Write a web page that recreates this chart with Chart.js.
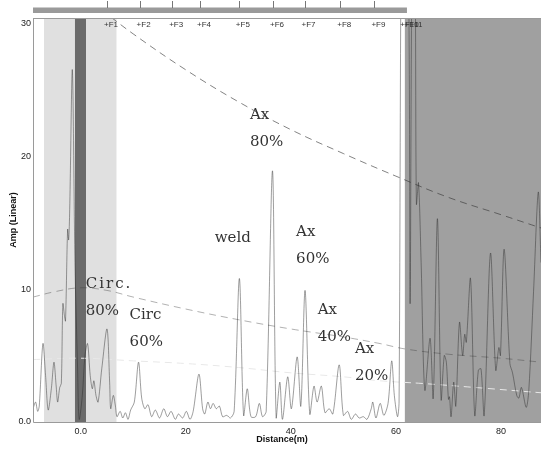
<!DOCTYPE html>
<html>
<head>
<meta charset="utf-8">
<script src="https://cdn.jsdelivr.net/npm/chart.js@4"></script>
<style>
  html, body { margin: 0; padding: 0; background: #fff; }
</style>
</head>
<body>
<canvas id="myChart" width="544" height="449"></canvas>
<script>
// A-scan trace (distance m, amplitude)
const sigX = [-9.09, -8.6, -8.2, -7.9, -7.2, -6.7, -6.2, -5.6, -5.1, -4.7, -4.4, -4.0, -3.7, -3.4, -3.1, -2.9, -2.5, -2.3, -2.1, -1.6, -1.1, -0.6, -0.3,
  0.3, 0.8, 1.3, 1.8, 2.2, 2.5, 2.9, 3.3, 4.0, 5.0, 5.5, 5.7, 6.2, 6.6, 6.9, 7.5, 8.0, 8.5, 9.0, 9.5, 10.2, 11.0, 11.6, 12.2, 12.8, 13.5, 14.2,
  15.0, 15.8, 16.5, 17.2, 18.0, 18.6, 19.4, 20.1, 20.8, 21.4, 22.5, 23.2, 23.6, 24.2, 24.7, 25.2, 25.8, 26.4, 27.0, 27.8, 28.5, 29.2,
  30.2, 31.0, 31.7, 32.4, 33.3, 34.0, 34.6, 35.3, 36.5, 37.2, 37.9, 38.4, 39.4, 40.1, 41.2, 41.9, 42.7, 43.6, 44.4, 45.0, 45.8, 46.5,
  47.3, 48.0, 49.2, 50.0, 50.8, 51.5, 52.3, 53.0, 53.8, 54.5, 55.3, 55.6, 56.2, 57.0, 57.7, 58.5, 59.2, 59.7, 60.3, 60.6, 61.0, 61.3,
  62.3, 62.7, 63.1, 63.6, 63.9, 64.3, 64.8, 65.5, 66.5, 67.1, 67.9, 68.6, 69.2, 69.6, 70.0, 70.2, 70.5, 71.0, 71.4, 72.1, 72.7, 73.1,
  73.4, 74.2, 75.0, 75.7, 76.2, 76.8, 78.0, 79.0, 79.6, 79.9, 80.6, 81.7, 82.2, 83.0, 83.4, 83.9, 84.8, 85.3, 86.2, 87.1, 87.62];
const sigY = [1.0, 1.5, 0.8, 1.2, 5.9, 3.5, 0.9, 2.5, 4.5, 2.8, 1.5, 2.6, 2.9, 8.9, 8.0, 7.6, 14.5, 13.7, 16.0, 26.5, 12.0, 4.0, 0.2,
  2.0, 5.0, 5.9, 3.5, 2.5, 3.1, 2.0, 1.5, 4.0, 7.0, 3.0, 1.0, 2.0, 1.2, 0.4, 0.8, 0.3, 0.7, 0.2, 0.9, 1.5, 4.5, 1.8, 1.0, 1.3, 0.4, 0.9,
  0.3, 1.0, 0.4, 0.8, 0.2, 0.6, 0.3, 0.8, 0.2, 0.8, 3.6, 1.0, 0.6, 1.5, 1.0, 1.4, 1.0, 1.2, 0.4, 0.5, 0.3, 0.8,
  10.8, 0.5, 2.5, 0.4, 0.4, 1.4, 0.4, 0.8, 18.9, 0.3, 3.0, 0.2, 3.4, 1.0, 4.9, 1.2, 9.9, 0.6, 2.7, 1.5, 2.7, 0.7,
  1.0, 0.6, 4.3, 0.5, 0.8, 0.2, 0.6, 0.3, 0.4, 0.2, 1.0, 1.5, 0.3, 1.4, 0.5, 1.4, 4.6, 2.0, 0.4, 1.5, 36, 36,
  36, 8.9, 36, 36, 16.4, 18.0, 12.0, 2.4, 6.3, 1.8, 15.3, 1.7, 5.0, 4.5, 1.7, 1.9, 0.4, 3.0, 1.2, 7.5, 5.0, 6.6,
  6.0, 10.8, 0.5, 3.9, 4.0, 0.5, 12.7, 3.9, 5.6, 5.0, 13.0, 4.4, 3.7, 2.0, 1.8, 2.6, 1.1, 2.4, 9.8, 17.3, 12.0];

// DAC curves
const ax80X = [4, 10, 20, 30, 40, 50, 60, 70, 80, 87.62];
const ax80Y = [31.0, 29.2, 26.5, 24.1, 22.0, 20.2, 18.5, 16.9, 15.6, 14.6];
const midX = [-9.09, -5, 0, 5, 10, 20, 30, 40, 50, 57, 61.7, 70, 80, 87.62];
const midY = [9.4, 9.8, 10.1, 9.9, 9.4, 8.5, 7.7, 7.0, 6.4, 5.9, 5.5, 5.1, 4.8, 4.5];
const lowX = [-9.09, 0, 10, 20, 30, 40, 50, 57, 65, 75, 87.62];
const lowY = [4.7, 4.8, 4.6, 4.4, 4.1, 3.7, 3.4, 3.1, 2.9, 2.6, 2.2];

const xTicks = [0, 20, 40, 60, 80];
const yTicks = [0, 10, 20, 30];

// feature markers along the top
const featNames = ["F1", "F2", "F3", "F4", "F5", "F6", "F7", "F8", "F9", "F10", "F11"];
const featPos = [5.0, 11.2, 17.4, 22.7, 30.1, 36.6, 42.6, 49.4, 55.9, 61.4, 62.2];

// shaded zones
const lightZone = [-7.0, 6.8];
const darkZone = [-1.1, 1.0];
const rightZone = [61.7, 87.62];

const notes = [
  { lines: ["Ax", "80%"], x: 32.2, y: 23.1 },
  { lines: ["weld"], x: 25.5, y: 13.8 },
  { lines: ["Ax", "60%"], x: 41.0, y: 14.3 },
  { lines: ["Circ.", "80%"], x: 0.95, y: 10.4, spread: true },
  { lines: ["Circ", "60%"], x: 9.3, y: 8.05 },
  { lines: ["Ax", "40%"], x: 45.1, y: 8.4 },
  { lines: ["Ax", "20%"], x: 52.2, y: 5.5 },
];

const toXY = (xs, ys) => xs.map((x, i) => ({ x: x, y: ys[i] }));
const tickFont = { family: "'Liberation Sans Narrow', 'Liberation Sans', Arial", size: 9 };

const zones = {
  id: "zones",
  beforeDatasetsDraw(chart) {
    const { ctx, chartArea: a, scales } = chart;
    const px = (v) => scales.x.getPixelForValue(v);
    ctx.save();
    ctx.fillStyle = "#e0e0e0";
    ctx.fillRect(px(lightZone[0]), a.top, px(lightZone[1]) - px(lightZone[0]), a.bottom - a.top);
    ctx.fillStyle = "#6b6b6b";
    ctx.fillRect(px(darkZone[0]), a.top, px(darkZone[1]) - px(darkZone[0]), a.bottom - a.top);
    ctx.fillStyle = "#a0a0a0";
    ctx.fillRect(px(rightZone[0]), a.top, px(rightZone[1]) - px(rightZone[0]), a.bottom - a.top);
    ctx.restore();
  },
  afterDraw(chart) {
    const { ctx, chartArea: a, scales } = chart;
    const px = (v) => scales.x.getPixelForValue(v);
    const py = (v) => scales.y.getPixelForValue(v);
    ctx.save();
    // frame
    ctx.strokeStyle = "#9a9a9a";
    ctx.lineWidth = 1;
    ctx.beginPath();
    ctx.moveTo(a.left + 0.5, a.top + 0.5);
    ctx.lineTo(a.right, a.top + 0.5);
    ctx.moveTo(a.left + 0.5, a.top);
    ctx.lineTo(a.left + 0.5, a.bottom + 0.5);
    ctx.lineTo(a.right, a.bottom + 0.5);
    ctx.stroke();

    // top bar + marker ticks
    ctx.fillStyle = "#9a9a9a";
    ctx.fillRect(a.left, 7.5, px(62.1) - a.left, 5.5);
    ctx.strokeStyle = "#777";
    for (let i = 0; i < 9; i++) {
      const x = Math.round(px(featPos[i])) + 0.5;
      ctx.beginPath();
      ctx.moveTo(x, 1);
      ctx.lineTo(x, 8);
      ctx.stroke();
    }
    ctx.fillStyle = "#333";
    ctx.font = "8px 'Liberation Sans Narrow', 'Liberation Sans', Arial";
    ctx.textBaseline = "middle";
    ctx.textAlign = "left";
    featNames.forEach((n, i) => ctx.fillText("+" + n, px(featPos[i]) - 3, 25));

    // annotations
    ctx.fillStyle = "#333";
    ctx.font = "15px 'DejaVu Serif', 'Liberation Serif', serif";
    notes.forEach((n) => {
      n.lines.forEach((t, j) => {
        ctx.letterSpacing = n.spread && j === 0 ? "2px" : "0px";
        ctx.fillText(t, px(n.x), py(n.y) + j * 27);
      });
    });
    ctx.letterSpacing = "0px";

    // axis titles
    ctx.font = "bold 9px 'Liberation Sans Narrow', 'Liberation Sans', Arial";
    ctx.textAlign = "center";
    ctx.fillStyle = "#111";
    ctx.fillText("Distance(m)", 282, 440);
    ctx.translate(14, 220);
    ctx.rotate(-Math.PI / 2);
    ctx.fillText("Amp (Linear)", 0, 0);
    ctx.restore();
  },
};

const ctx = document.getElementById("myChart");

const chart = new Chart(ctx, {
  type: "line",
  data: {
    datasets: [
      {
        data: toXY(sigX, sigY),
        borderColor: "rgba(40,40,40,0.45)",
        borderWidth: 1,
        pointRadius: 0,
        tension: 0.3,
      },
      {
        data: toXY(ax80X, ax80Y),
        borderColor: "rgba(50,50,50,0.6)",
        borderDash: [7, 5],
        borderWidth: 1,
        pointRadius: 0,
        tension: 0.4,
      },
      {
        data: toXY(midX, midY),
        borderColor: "rgba(60,60,60,0.4)",
        borderDash: [7, 5],
        borderWidth: 1,
        pointRadius: 0,
        tension: 0.4,
      },
      {
        data: toXY(lowX, lowY),
        borderColor: "#e8e8e8",
        borderDash: [7, 5],
        borderWidth: 1,
        pointRadius: 0,
        tension: 0.4,
      },
    ],
  },
  options: {
    responsive: false,
    animation: false,
    layout: { padding: { top: 18, right: 3, left: 0, bottom: 0 } },
    plugins: { legend: { display: false }, tooltip: { enabled: false } },
    scales: {
      x: {
        type: "linear",
        min: -9.09,
        max: 87.62,
        grid: { display: false, tickLength: 0 },
        border: { display: false },
        afterBuildTicks: (s) => { s.ticks = xTicks.map((v) => ({ value: v })); },
        afterFit: (s) => { s.height = 27; },
        ticks: {
          padding: 4,
          color: "#222",
          font: tickFont,
          maxRotation: 0,
          autoSkip: false,
          callback: (v) => (v === 0 ? "0.0" : v),
        },
      },
      y: {
        min: 0,
        max: 30.4,
        grid: { display: false, tickLength: 0 },
        border: { display: false },
        afterBuildTicks: (s) => { s.ticks = yTicks.map((v) => ({ value: v })); },
        afterFit: (s) => { s.width = 33; },
        ticks: {
          padding: 2,
          color: "#222",
          font: tickFont,
          callback: (v) => (v === 0 ? "0.0" : v),
        },
      },
    },
  },
  plugins: [zones],
});
</script>
</body>
</html>
